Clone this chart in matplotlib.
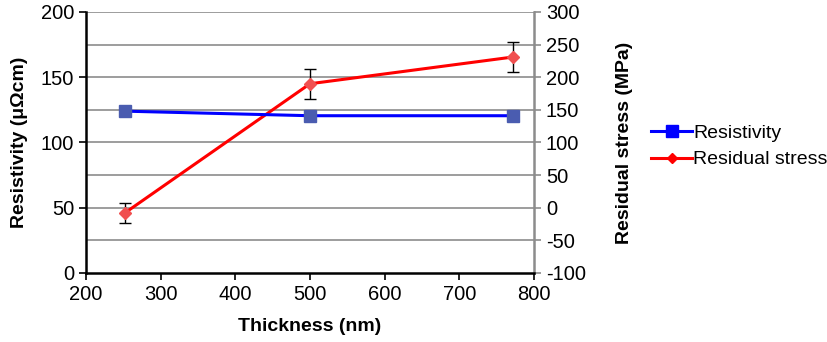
import matplotlib.pyplot as plt
from matplotlib.lines import Line2D

plt.rcParams['font.family'] = ['Liberation Sans', 'DejaVu Sans']
plt.rcParams['axes.unicode_minus'] = False

thickness = [252, 500, 772]
resistivity = [124, 120.5, 120.5]
stress = [-8, 190, 231]
stress_err = [15, 23, 23]

fig = plt.figure(figsize=(8.27, 3.42), dpi=100)
ax = fig.add_axes([0.104, 0.2018, 0.5417, 0.7632])
ax2 = ax.twinx()

ax.set_xlim(200, 800)
ax.set_ylim(0, 200)
ax2.set_ylim(-100, 300)
ax.set_xticks(range(200, 801, 100))
ax.set_yticks(range(0, 201, 50))
ax2.set_yticks(range(-100, 301, 50))

# gridlines follow the right axis
for v in range(-50, 301, 50):
    ax2.axhline(v, color='#8c8c8c', lw=1.2, zorder=0)

ax.plot(thickness, resistivity, color='#0000ff', lw=2.2, marker='s', ms=9,
        mfc='#4a5cb0', mec='#4a5cb0', zorder=3)
ax2.errorbar(thickness, stress, yerr=stress_err, color='#ff0000', lw=2.2,
             marker='D', ms=6, mfc='#f05050', mec='#f05050',
             ecolor='black', elinewidth=1, capsize=4, capthick=1, zorder=4)
ax.set_zorder(ax2.get_zorder() + 1)
ax.patch.set_visible(False)

for a in (ax, ax2):
    a.spines['top'].set_visible(False)
ax.spines['left'].set_linewidth(1.8)
ax.spines['bottom'].set_linewidth(1.8)
ax.spines['right'].set_visible(False)
ax2.spines['left'].set_visible(False)
ax2.spines['bottom'].set_visible(False)
ax2.spines['right'].set_color('#8c8c8c')
ax2.spines['right'].set_linewidth(1.8)

ax.tick_params(axis='both', direction='out', length=5, width=1.2, labelsize=14.5, colors='black')
ax2.tick_params(axis='y', direction='out', length=5, width=1.2, labelsize=14.5, color='#8c8c8c')

ax.set_xlabel('Thickness (nm)', fontsize=14, fontweight='bold', labelpad=10)
ax.set_ylabel('Resistivity (\u03bc\u03a9cm)', fontsize=14, fontweight='bold', labelpad=9)
ax2.set_ylabel('Residual stress (MPa)', fontsize=14, fontweight='bold', labelpad=22)

handles = [Line2D([], [], color='#0000ff', lw=2.2, marker='s', ms=8, mfc='#0000ff', mec='#0000ff'),
           Line2D([], [], color='#ff0000', lw=2.2, marker='D', ms=5, mfc='#ff0000', mec='#ff0000')]
fig.legend(handles, ['Resistivity', 'Residual stress'], loc='center left',
           bbox_to_anchor=(0.778, 0.572), frameon=False, fontsize=14,
           handlelength=2.1, handletextpad=0.05, labelspacing=0.45, borderaxespad=0)

fig.savefig('out.png', dpi=100)
